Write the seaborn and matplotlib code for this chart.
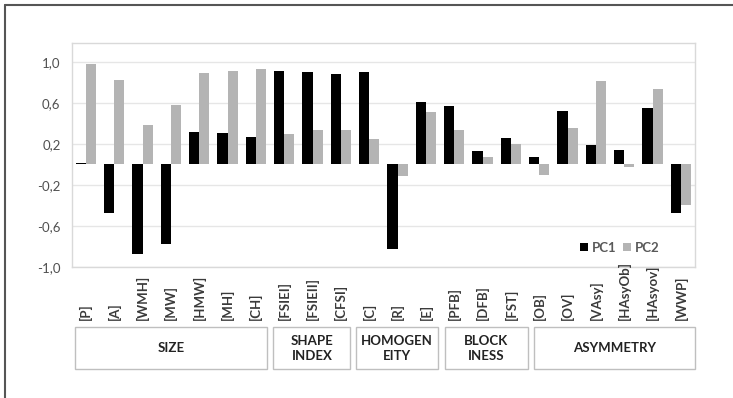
import matplotlib
matplotlib.use("Agg")
import matplotlib.pyplot as plt
import matplotlib.transforms as mtransforms
from matplotlib.patches import Rectangle, Patch
from matplotlib.lines import Line2D
import seaborn as sns
import pandas as pd

# Loadings of each morphometric variable on the first two principal components
variables = ["[P]", "[A]", "[WMH]", "[MW]", "[HMW]", "[MH]", "[CH]",
             "[FSIEI]", "[FSIEII]", "[CFSI]",
             "[C]", "[R]", "[E]",
             "[PFB]", "[DFB]", "[FST]",
             "[OB]", "[OV]", "[VAsy]", "[HAsyOb]", "[HAsyov]", "[WWP]"]
pc1 = [0.01, -0.48, -0.88, -0.78, 0.32, 0.31, 0.27,
       0.91, 0.90, 0.88,
       0.90, -0.83, 0.61,
       0.57, 0.13, 0.26,
       0.07, 0.52, 0.19, 0.14, 0.55, -0.48]
pc2 = [0.98, 0.83, 0.39, 0.58, 0.89, 0.91, 0.93,
       0.30, 0.34, 0.34,
       0.245, -0.11, 0.51,
       0.335, 0.07, 0.20,
       -0.10, 0.36, 0.82, -0.03, 0.74, -0.40]
series = ["PC1", "PC2"]
groups = ["SIZE", "SHAPE\nINDEX", "HOMOGEN\nEITY", "BLOCK\nINESS", "ASYMMETRY"]
y_ticks = [-1.0, -0.6, -0.2, 0.2, 0.6, 1.0]

df = pd.DataFrame({
    "variable": variables * 2,
    "loading": pc1 + pc2,
    "component": [series[0]] * len(variables) + [series[1]] * len(variables),
})

sns.set_theme(style="white")
plt.rcParams["font.family"] = ["Lato", "DejaVu Sans"]

colors = {"PC1": "#000000", "PC2": "#b4b4b4"}

fig = plt.figure(figsize=(7.33, 3.98), dpi=100)
ax = fig.add_axes([0.0978, 0.330, 0.8504, 0.5627])

sns.barplot(data=df, x="variable", y="loading", hue="component",
            palette=colors, width=0.71, gap=0, ax=ax, legend=False,
            saturation=1, linewidth=0)

ax.set_ylim(-1.0, 1.19)
ax.set_xlim(-0.5, len(variables) - 0.5)
ax.set_yticks(y_ticks)
ax.set_yticklabels([f"{v:.1f}".replace(".", ",") for v in y_ticks],
                   fontsize=9.5, color="#505050")
ax.tick_params(axis="y", length=0, pad=8)
ax.set_xticks([])
ax.set_xlabel("")
ax.set_ylabel("")
ax.yaxis.grid(True, color="#e6e6e6", linewidth=1)
ax.set_axisbelow(True)
for side in ax.spines.values():
    side.set_color("#d9d9d9")
    side.set_linewidth(1)

# Rotated variable names under the plot area
trans = mtransforms.blended_transform_factory(ax.transData, fig.transFigure)
for i, name in enumerate(variables):
    ax.text(i, 0.196, name, transform=trans, rotation=90, ha="center",
            va="bottom", fontsize=9.5, fontweight="bold", color="#3a3a3a",
            clip_on=False)

# Boxed group captions
box_spans = [(-0.38, 6.40), (6.62, 9.33), (9.55, 12.42), (12.67, 15.60), (15.81, 21.49)]
box_bottom, box_top = 0.072, 0.179
for label, (x0, x1) in zip(groups, box_spans):
    ax.add_patch(Rectangle((x0, box_bottom), x1 - x0, box_top - box_bottom,
                           transform=trans, fill=False, edgecolor="#bfbfbf",
                           linewidth=1, clip_on=False))
    ax.text((x0 + x1) / 2, (box_bottom + box_top) / 2, label, transform=trans,
            ha="center", va="center", fontsize=9.5, fontweight="bold",
            color="#222222", linespacing=1.3, clip_on=False)

# Legend
handles = [Patch(facecolor=colors[s], edgecolor="none", label=s) for s in series]
leg = ax.legend(handles=handles, ncol=2, loc="center left",
                bbox_to_anchor=(0.805, 0.085), frameon=False,
                handlelength=0.6, handleheight=0.6, handletextpad=0.3,
                columnspacing=0.5, borderpad=0, prop={"size": 9.5, "weight": "bold"})
for t in leg.get_texts():
    t.set_color("#595959")

# Frame lines along the top and left edges of the figure
fig.add_artist(Line2D([4.5 / 733, 1.0], [1 - 4.5 / 398] * 2, transform=fig.transFigure,
                      color="#555555", linewidth=1.5))
fig.add_artist(Line2D([4.5 / 733] * 2, [0.0, 1 - 4.5 / 398], transform=fig.transFigure,
                      color="#555555", linewidth=1.5))

fig.savefig("out.png", dpi=100)
